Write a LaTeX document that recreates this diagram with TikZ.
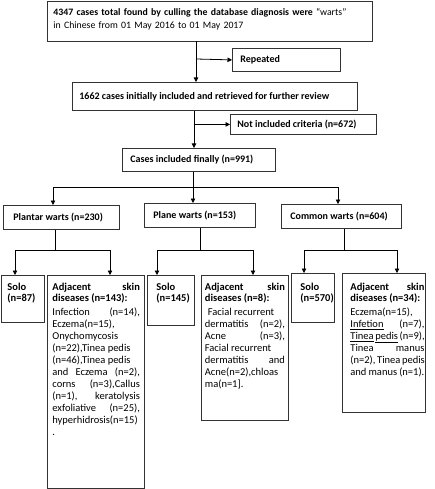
\documentclass[tikz,border=0pt]{standalone}
\usepackage{fontspec}
\setmainfont{Carlito}
\usetikzlibrary{arrows.meta}
\newcommand\jline[1]{\makebox[\linewidth][s]{#1}}
\newcommand\tbox[5]{\hspace*{#1}\parbox[t][#4][t]{#2}{\fontsize{10.5}{12}\selectfont #5}\hspace*{#3}}
\newcommand\lbox[2]{\makebox[#1][l]{#2}}
\begin{document}
\begin{tikzpicture}[x=1pt,y=-1pt,
  box/.style={draw=black!80, line width=0.8pt, anchor=north west,
    inner ysep=0pt, font=\fontsize{10}{12}\selectfont\bfseries},
  tall/.style={draw=black!80, line width=0.8pt, anchor=north west, inner xsep=0pt, inner ysep=8pt},
  conn/.style={line width=0.8pt, black},
  arr/.style={conn, -{Triangle[length=4.5pt,width=4.5pt]}}]
\useasboundingbox (0,0) rectangle (435,489);

% top chain
\node[box, align=left, inner xsep=6pt, inner ysep=7pt, text width=313pt,
  font=\fontsize{9.8}{13}\selectfont] (b1) at (47,1)
  {\textbf{4347 cases total found by culling the database diagnosis were} “warts”\\
   in Chinese from 01 May 2016 to 01 May 2017\rule[-5.5pt]{0pt}{5.5pt}};
\node[box, inner xsep=8pt, minimum height=23pt] (rep) at (232,48) {\lbox{92pt}{Repeated}};
\node[box, inner xsep=7pt, minimum height=28pt] (b2) at (72,82)
  {\lbox{271pt}{1662 cases initially included and retrieved for further review}};
\node[box, inner xsep=7pt, minimum height=20pt] (notinc) at (230,114)
  {\lbox{132pt}{Not included criteria (n=672)}};
\node[box, inner xsep=8pt, minimum height=23pt] (b3) at (122,148)
  {\lbox{137pt}{Cases included finally (n=991)}};

% second level
\node[box, inner xsep=10pt, minimum height=24pt] (plantar) at (3,205) {\lbox{96pt}{Plantar warts (n=230)}};
\node[box, inner xsep=9pt, minimum height=24pt] (plane) at (144,203) {\lbox{93pt}{Plane warts (n=153)}};
\node[box, inner xsep=9pt, minimum height=24pt] (common) at (281,204) {\lbox{102pt}{Common warts (n=604)}};

% third level
\node[tall] (solo1) at (1,275) {\tbox{6pt}{36pt}{1pt}{31pt}{\bfseries Solo\\[-1pt](n=87)}};
\node[tall] (adj1) at (47,275) {\tbox{5pt}{87.5pt}{4.5pt}{197pt}{%
  \bfseries\jline{Adjacent skin}\\[-1pt]
  diseases (n=143):\\[1.5pt]\mdseries
  \jline{Infection (n=14),}\\
  Eczema(n=15),\\
  Onychomycosis\\
  (n=22),Tinea pedis\\
  (n=46),Tinea pedis\\
  \jline{and Eczema (n=2),}\\
  \jline{corns (n=3),Callus}\\
  \jline{(n=1), keratolysis}\\
  \jline{exfoliative (n=25),}\\
  hyperhidrosis(n=15)\\
  .}};
\node[tall] (solo2) at (147,275) {\tbox{9pt}{37pt}{1pt}{34pt}{\bfseries Solo\\[-1pt](n=145)}};
\node[tall] (adj2) at (201,275) {\tbox{3.5pt}{80pt}{3.5pt}{129pt}{%
  \bfseries\jline{Adjacent skin}\\[-1pt]
  diseases (n=8):\\[1.5pt]\mdseries
  \hspace*{3pt}Facial recurrent\\
  \jline{dermatitis (n=2),}\\
  \jline{Acne (n=3),}\\
  Facial recurrent\\
  \jline{dermatitis and}\\
  Acne(n=2),chloas\\
  ma(n=1].}};
\node[tall, inner ysep=10pt] (solo3) at (291,273) {\tbox{9pt}{33pt}{1pt}{29pt}{\bfseries Solo\\[-1pt](n=570)}};
\node[tall, inner ysep=10pt] (adj3) at (342,273) {\tbox{8pt}{74pt}{1pt}{119pt}{%
  \bfseries\jline{Adjacent skin}\\[-1pt]
  diseases (n=34):\\[1.5pt]\mdseries
  Eczema(n=15),\\
  \jline{\underline{Infetion} (n=7),}\\
  \jline{\underline{Tinea} \underline{pedis} (n=9),}\\
  \jline{Tinea manus}\\
  \jline{(n=2), Tinea pedis}\\
  and manus (n=1).}};

% connectors: top chain
\coordinate (j1) at (196,59);
\draw[arr] (b1.south -| j1) -- (b2.north -| j1);
\draw[arr] (j1) -- (rep.west);
\coordinate (j2) at (194,124);
\draw[arr] (b2.south -| j2) -- (b3.north -| j2);
\draw[arr] (notinc.west -| j2) -- (notinc.west);

% split into wart types
\coordinate (j3) at (193,187);
\coordinate (c1) at (53,187);
\coordinate (c3) at (338,187);
\draw[conn] (c1) -- (c3);
\draw[arr] (b3.south -| j3) -- (plane.north -| j3);
\draw[arr] (c1) -- (plantar.north -| c1);
\draw[arr] (c3) -- (common.north -| c3);

% plantar split
\coordinate (p0) at (55,250); \coordinate (pl) at (15,250); \coordinate (pr) at (110,250);
\draw[conn] (plantar.south -| p0) -- (p0);
\draw[conn] (pl) -- (pr);
\draw[arr] (pl) -- (solo1.north -| pl);
\draw[arr] (pr) -- (adj1.north -| pr);
% plane split
\coordinate (q0) at (200,250); \coordinate (ql) at (157,250); \coordinate (qr) at (253,250);
\draw[conn] (plane.south -| q0) -- (q0);
\draw[conn] (ql) -- (qr);
\draw[arr] (ql) -- (solo2.north -| ql);
\draw[arr] (qr) -- (adj2.north -| qr);
% common split
\coordinate (r0) at (344,250); \coordinate (rl) at (304,250); \coordinate (rr) at (397,250);
\draw[conn] (common.south -| r0) -- (r0);
\draw[conn] (rl) -- (rr);
\draw[arr] (rl) -- (solo3.north -| rl);
\draw[arr] (rr) -- (adj3.north -| rr);
\end{tikzpicture}
\end{document}
